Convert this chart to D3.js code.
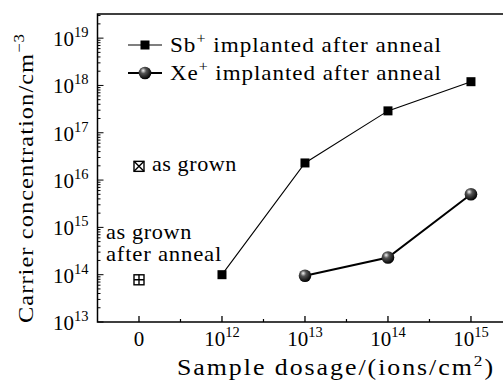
<!DOCTYPE html>
<html><head><meta charset="utf-8">
<script src="https://cdn.jsdelivr.net/npm/d3@7"></script>
<style>body{margin:0;background:#fff}svg{display:block}text{font-family:"Liberation Serif",serif;fill:#000}</style>
</head><body><svg id="c" width="503" height="381"></svg>
<script>
const xCats = ["0","12","13","14","15"];            // tick exponents (0 = "0")
const yTicks = [13,14,15,16,17,18,19];
const sbX = [1,2,3,4];
const sbY = [1.0e14, 2.3e16, 2.9e17, 1.2e18];
const xeX = [2,3,4];
const xeY = [9.5e13, 2.3e14, 5.0e15];
const asGrown = [0, 1.95e16];
const asGrownAnneal = [0, 7.8e13];

const svg = d3.select("#c");
const L=97.5, R=503, T=14, B=322;
const FS=21, SS=14.5;
const x = d3.scaleLinear().domain([-0.5, 4.386]).range([L, R]);
const y = d3.scaleLog().domain([1e13, Math.pow(10,19.51)]).range([B, T]);

// widen text toward the reference's (Computer Modern) width: part glyph stretch, part spacing
function fit(sel, w, base){
  const n = sel.node();
  const cur = n.getComputedTextLength();
  const len = n.textContent.length;
  const sx = Math.min(1.15, Math.sqrt(w/cur));
  const x0 = +sel.attr("x")||0, y0 = +sel.attr("y")||0;
  sel.attr("transform", (base||"")+` translate(${x0},${y0}) scale(${sx.toFixed(4)},1) translate(${-x0},${-y0})`);
  sel.attr("letter-spacing", ((w/sx-cur)/len).toFixed(2));
}

const defs = svg.append("defs");
const g = defs.append("radialGradient").attr("id","sph").attr("cx","0.4").attr("cy","0.35").attr("r","0.65").attr("fx","0.35").attr("fy","0.3");
g.append("stop").attr("offset","0").attr("stop-color","#f4f4f4");
g.append("stop").attr("offset","0.35").attr("stop-color","#555");
g.append("stop").attr("offset","1").attr("stop-color","#000");

// frame
svg.append("path").attr("d",`M${R},${T}H${L}V${B}H${R}`).attr("fill","none").attr("stroke","#000").attr("stroke-width",1.5);

// y ticks
const yMinor=[];
for(let e=13;e<=19;e++) for(let m=1;m<=9;m++){const v=m*Math.pow(10,e); if(v<=y.domain()[1]) yMinor.push(v);}
svg.append("g").selectAll("line").data(yMinor).join("line")
 .attr("x1",L).attr("x2",d=>L+(Math.abs(Math.log10(d)%1)<1e-9?6:3))
 .attr("y1",d=>y(d)).attr("y2",d=>y(d)).attr("stroke","#000").attr("stroke-width",1);
const yl = svg.append("g").selectAll("text").data(yTicks).join("text")
 .attr("x",L-9).attr("y",d=>y(Math.pow(10,d))+8).attr("text-anchor","end").attr("font-size",FS);
yl.append("tspan").text("10");
yl.append("tspan").attr("dy",-9).attr("font-size",SS).text(d=>d);

// x ticks
const xMinor=[];
for(let i=0;i<xCats.length-1;i++) xMinor.push(i+0.5);
svg.append("g").selectAll("line").data(xCats.map((d,i)=>i)).join("line")
 .attr("x1",d=>x(d)).attr("x2",d=>x(d)).attr("y1",B).attr("y2",B-6).attr("stroke","#000").attr("stroke-width",1.3);
svg.append("g").selectAll("line").data(xMinor).join("line")
 .attr("x1",d=>x(d)).attr("x2",d=>x(d)).attr("y1",B).attr("y2",B-3).attr("stroke","#000").attr("stroke-width",1.2);
const xl = svg.append("g").selectAll("text").data(xCats).join("text")
 .attr("x",(d,i)=>x(i)).attr("y",346).attr("text-anchor","middle").attr("font-size",FS);
xl.each(function(d){
  const t=d3.select(this);
  if(d==="0"){t.text("0");}
  else{t.append("tspan").text("10");t.append("tspan").attr("dy",-9).attr("font-size",SS).text(d);}
});

// axis titles
const xt = svg.append("text").attr("x",336).attr("y",375).attr("text-anchor","middle").attr("font-size",22.5);
xt.append("tspan").text("Sample dosage/(ions/cm");
xt.append("tspan").attr("dy",-9).attr("font-size",15).text("2");
xt.append("tspan").attr("dy",9).text(")");
fit(xt, 318);
const yt = svg.append("text").attr("x",0).attr("y",0).attr("text-anchor","middle").attr("font-size",22);
yt.append("tspan").text("Carrier concentration/cm");
yt.append("tspan").attr("dy",-9).attr("font-size",15).text("−3");
fit(yt, 290, "translate(33,178) rotate(-90)");

// Sb series
const line = d3.line().x(d=>x(d[0])).y(d=>y(d[1]));
const sb = sbX.map((d,i)=>[d,sbY[i]]);
const xe = xeX.map((d,i)=>[d,xeY[i]]);
svg.append("path").attr("d",line(sb)).attr("fill","none").attr("stroke","#000").attr("stroke-width",1.1);
svg.append("g").selectAll("rect").data(sb).join("rect")
 .attr("x",d=>x(d[0])-4.5).attr("y",d=>y(d[1])-4.5).attr("width",9).attr("height",9).attr("fill","#000");
svg.append("path").attr("d",line(xe)).attr("fill","none").attr("stroke","#000").attr("stroke-width",2);
svg.append("g").selectAll("circle").data(xe).join("circle")
 .attr("cx",d=>x(d[0])).attr("cy",d=>y(d[1])).attr("r",6.3).attr("fill","url(#sph)");

// as grown markers
const ag=[x(asGrown[0]), y(asGrown[1])];
svg.append("rect").attr("x",ag[0]-5).attr("y",ag[1]-5).attr("width",10).attr("height",10).attr("fill","#fff").attr("stroke","#000").attr("stroke-width",1.4);
svg.append("path").attr("d",`M${ag[0]-5},${ag[1]-5}L${ag[0]+5},${ag[1]+5}M${ag[0]+5},${ag[1]-5}L${ag[0]-5},${ag[1]+5}`).attr("stroke","#000").attr("stroke-width",1.4);
fit(svg.append("text").attr("x",ag[0]+13).attr("y",ag[1]+5).attr("font-size",FS).text("as grown"), 85);
const aa=[x(asGrownAnneal[0]), y(asGrownAnneal[1])];
svg.append("rect").attr("x",aa[0]-5).attr("y",aa[1]-5).attr("width",10).attr("height",10).attr("fill","#fff").attr("stroke","#000").attr("stroke-width",1.4);
svg.append("path").attr("d",`M${aa[0]},${aa[1]-5}V${aa[1]+5}M${aa[0]-5},${aa[1]}H${aa[0]+5}`).attr("stroke","#000").attr("stroke-width",1.4);
fit(svg.append("text").attr("x",106).attr("y",239).attr("font-size",FS).text("as grown"), 86);
fit(svg.append("text").attr("x",106).attr("y",261).attr("font-size",FS).text("after anneal"), 116);

// legend
const lg = svg.append("g");
lg.append("line").attr("x1",128).attr("x2",162).attr("y1",45).attr("y2",45).attr("stroke","#000").attr("stroke-width",1.1);
lg.append("rect").attr("x",140.5).attr("y",40.5).attr("width",9).attr("height",9).attr("fill","#000");
lg.append("line").attr("x1",128).attr("x2",162).attr("y1",73).attr("y2",73).attr("stroke","#000").attr("stroke-width",2);
lg.append("circle").attr("cx",145).attr("cy",73).attr("r",6.3).attr("fill","url(#sph)");
const t1 = lg.append("text").attr("x",170).attr("y",52).attr("font-size",FS);
t1.append("tspan").text("Sb");
t1.append("tspan").attr("dy",-9).attr("font-size",SS).text("+");
t1.append("tspan").attr("dy",9).text(" implanted after anneal");
fit(t1, 272);
const t2 = lg.append("text").attr("x",170).attr("y",80).attr("font-size",FS);
t2.append("tspan").text("Xe");
t2.append("tspan").attr("dy",-9).attr("font-size",SS).text("+");
t2.append("tspan").attr("dy",9).text(" implanted after anneal");
fit(t2, 272);
</script></body></html>
